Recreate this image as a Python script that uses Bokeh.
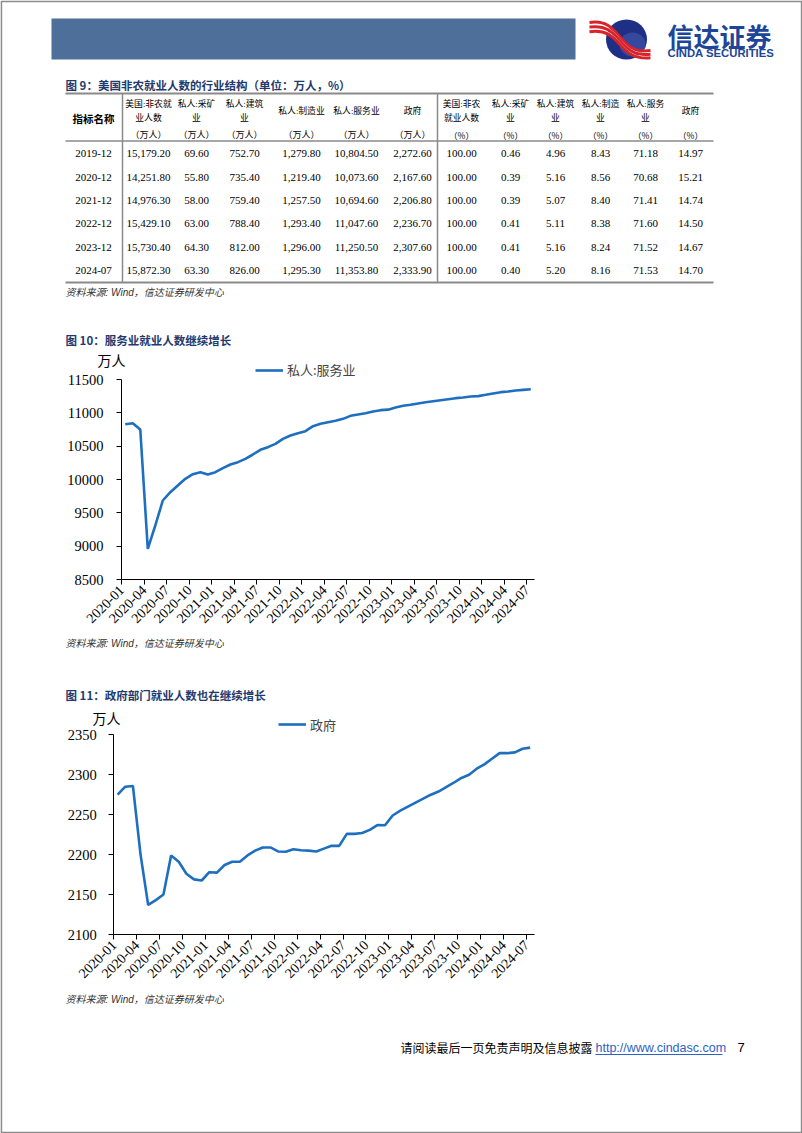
import math
from bokeh.plotting import figure
from bokeh.models import Range1d, FixedTicker, Legend, LegendItem, LinearAxis
from bokeh.core.properties import value
from bokeh.embed import file_html
from bokeh.resources import INLINE

# ---------------- data ----------------
tick_labels = ["2020-01", "2020-04", "2020-07", "2020-10", "2021-01", "2021-04", "2021-07",
               "2021-10", "2022-01", "2022-04", "2022-07", "2022-10", "2023-01", "2023-04",
               "2023-07", "2023-10", "2024-01", "2024-04", "2024-07"]

service = [10830, 10845, 10750, 8960, 9310, 9685, 9810, 9910, 10010, 10080, 10110, 10073.6,
           10110, 10170, 10225, 10260, 10310, 10375, 10445, 10485, 10535, 10610, 10660, 10694.6,
           10725, 10800, 10835, 10860, 10880, 10910, 10955, 10975, 10995, 11020, 11040, 11047.6,
           11080, 11105, 11120, 11140, 11160, 11175, 11190, 11205, 11220, 11230, 11245, 11250.5,
           11270, 11290, 11310, 11320, 11335, 11345, 11353.8]

government = [2275, 2285, 2286, 2200, 2137, 2143, 2150, 2199, 2191, 2176, 2169, 2167.6,
              2178, 2177.5, 2187, 2191, 2191, 2199, 2205, 2209, 2209, 2204, 2203.5, 2206.8,
              2205.4, 2205, 2204, 2207.5, 2211, 2211, 2226, 2226, 2227, 2231, 2237, 2236.7,
              2249, 2255, 2260, 2265, 2270, 2275, 2279, 2284.5, 2290, 2296, 2300, 2307.6,
              2313, 2320, 2327, 2327, 2328, 2332.5, 2333.9]

service_ticks = [8500, 9000, 9500, 10000, 10500, 11000, 11500]
government_ticks = [2100, 2150, 2200, 2250, 2300, 2350]

table_dates = ["2019-12", "2020-12", "2021-12", "2022-12", "2023-12", "2024-07"]
nonfarm_total = [15179.20, 14251.80, 14976.30, 15429.10, 15730.40, 15872.30]
mining = [69.60, 55.80, 58.00, 63.00, 64.30, 63.30]
construction = [752.70, 735.40, 759.40, 788.40, 812.00, 826.00]
manufacturing = [1279.80, 1219.40, 1257.50, 1293.40, 1296.00, 1295.30]
services_tbl = [10804.50, 10073.60, 10694.60, 11047.60, 11250.50, 11353.80]
government_tbl = [2272.60, 2167.60, 2206.80, 2236.70, 2307.60, 2333.90]
total_pct = [100.00, 100.00, 100.00, 100.00, 100.00, 100.00]
mining_pct = [0.46, 0.39, 0.39, 0.41, 0.41, 0.40]
construction_pct = [4.96, 5.16, 5.07, 5.11, 5.16, 5.20]
manufacturing_pct = [8.43, 8.56, 8.40, 8.38, 8.24, 8.16]
services_pct = [71.18, 70.68, 71.41, 71.60, 71.52, 71.53]
government_pct = [14.97, 15.21, 14.74, 14.50, 14.67, 14.70]

header_left = [["美国:非农就", "业人数"], ["私人:采矿", "业"], ["私人:建筑", "业"],
               ["私人:制造业"], ["私人:服务业"], ["政府"]]
header_right = [["美国:非农", "就业人数"], ["私人:采矿", "业"], ["私人:建筑", "业"],
                ["私人:制造", "业"], ["私人:服务", "业"], ["政府"]]

# ---------------- styles ----------------
SERIF = "Liberation Serif, Noto Sans CJK SC"
NUMFONT = "Liberation Serif"
CJK = "Noto Sans CJK SC"
ITAL = "Liberation Sans, Noto Sans CJK SC"
NAVY = "#1f3a6e"
LINE = "#1f6fc0"
GRAY = "#8a8a8a"
PW, PH = 802, 1133

p = figure(width=PW, height=PH, x_range=Range1d(0, PW), y_range=Range1d(PH, 0),
           x_axis_type=None, y_axis_type=None, min_border=0, outline_line_color=None,
           output_backend="svg", toolbar_location=None)


def txt(x, y, text, size, font=SERIF, align="center", color="black", style="normal"):
    p.text(x=x, y=y, text=text, text_align=align, text_baseline="middle",
           text_font=value(font), text_font_size=size, text_color=color, text_font_style=style)


def x_scale_range(v0, p0, v1, p1):
    s = (v1 - v0) / (p1 - p0)
    return Range1d(start=v0 - p0 * s, end=v0 + (PW - p0) * s)


def y_scale_range(v0, p0, v1, p1):
    s = (v1 - v0) / (p0 - p1)
    return Range1d(start=v0 - (PH - p0) * s, end=v0 + p0 * s)


# page border
p.quad(left=[0.8], right=[801.2], top=[0.8], bottom=[1132.2], fill_color=None,
       line_color="#8c8c8c", line_width=1.8)

# ---------------- header ----------------
p.quad(left=[51], right=[575], top=[18], bottom=[59], fill_color="#4d6f9a", line_color=None)
p.ellipse(x=[626], y=[39], width=[41], height=[40], fill_color="#1f2f86", line_color=None)
p.ellipse(x=[632], y=[44], width=[26], height=[24], fill_color="#5068bb", line_color=None, fill_alpha=0.45)
for d, c, w in [(0, "#d8232a", 3), (3, "white", 1.2), (4.6, "#d8232a", 3), (7.6, "white", 1.2), (9.2, "#d8232a", 3)]:
    p.bezier(x0=[589], y0=[22 + d], x1=[650], y1=[50 + d * 0.8], cx0=[622], cy0=[17 + d],
             cx1=[616], cy1=[55 + d * 0.6], line_color=c, line_width=w)
txt([667], [34.5], ["信达证券"], "26px", font=CJK, align="left", color="#1d4698", style="bold")
txt([667], [52], ["CINDA SECURITIES"], "11.3px", font="Liberation Sans", align="left",
    color="#1d4698", style="bold")

# ---------------- table ----------------
txt([65], [84], ["图 9：美国非农就业人数的行业结构（单位：万人，%）"], "11.5px", font=CJK,
    align="left", color=NAVY, style="bold")
p.segment(x0=[65, 65, 65], y0=[93, 140.5, 282], x1=[713, 713, 713], y1=[93, 140.5, 282],
          line_color=GRAY, line_width=[2, 1.5, 2])
p.segment(x0=[122, 437], y0=[93, 93], x1=[122, 437], y1=[282, 282], line_color=GRAY, line_width=1.5)

row_y = [153, 176.5, 200, 223, 247, 270]
left_cx = [148, 196, 244, 301, 356, 412]
right_cx = [461, 510, 555, 600, 645, 690]

txt([93], [118], ["指标名称"], "10.5px", font=CJK, style="bold")
for cols, heads in [(left_cx, header_left), (right_cx, header_right)]:
    for cx, lines in zip(cols, heads):
        ys = [103, 117] if len(lines) == 2 else [110]
        txt([cx] * len(lines), ys, lines, "8.8px", font=SERIF)
txt(left_cx, [134] * 6, ["（万人）"] * 6, "9px", font=CJK)
txt(right_cx, [134] * 6, ["（%）"] * 6, "8.5px", font=CJK)

txt([93] * 6, row_y, table_dates, "11px", font=NUMFONT)
for cx, col in zip(left_cx, [nonfarm_total, mining, construction, manufacturing, services_tbl, government_tbl]):
    txt([cx] * 6, row_y, ["{:,.2f}".format(v) for v in col], "11px", font=NUMFONT)
for cx, col in zip(right_cx, [total_pct, mining_pct, construction_pct, manufacturing_pct, services_pct, government_pct]):
    txt([cx] * 6, row_y, ["{:.2f}".format(v) for v in col], "11px", font=NUMFONT)
txt([65], [291.5], ["资料来源: Wind，信达证券研发中心"], "10px", font=ITAL, align="left",
    color="#333333", style="italic")

# ---------------- charts ----------------
p.extra_x_ranges = {"m1": x_scale_range(0, 121, 55, 534), "m2": x_scale_range(0, 113.3, 55, 533.5)}
p.extra_y_ranges = {"v1": y_scale_range(8500, 579, 11500, 379), "v2": y_scale_range(2100, 934, 2350, 734.3)}


def chart(series, yticks, xn, yn, legend_label, legend_x, legend_bottom, y_standoff):
    months = [i + 0.5 for i in range(len(series))]
    r = p.line(months, series, x_range_name=xn, y_range_name=yn, line_color=LINE, line_width=2.6)
    xa = LinearAxis(x_range_name=xn, y_range_name=yn, fixed_location=yticks[0], bounds=(0, len(series)),
                    ticker=FixedTicker(ticks=[i * 3 for i in range(len(tick_labels))], minor_ticks=[]),
                    major_label_overrides={i * 3: lab for i, lab in enumerate(tick_labels)},
                    major_label_orientation=math.pi / 4, major_label_text_font_size="14px",
                    major_label_standoff=3)
    ya = LinearAxis(x_range_name=xn, y_range_name=yn, fixed_location=0, bounds=(yticks[0], yticks[-1]),
                    ticker=FixedTicker(ticks=yticks, minor_ticks=[]), major_label_text_font_size="14.5px",
                    major_label_standoff=y_standoff)
    for ax in (xa, ya):
        ax.axis_line_color = "black"
        ax.major_tick_line_color = "black"
        ax.minor_tick_line_color = None
        ax.major_tick_in = 0
        ax.major_tick_out = 5
        ax.major_label_text_font = NUMFONT
        ax.major_label_text_color = "black"
    p.add_layout(xa, "below")
    p.add_layout(ya, "left")
    legend = Legend(items=[LegendItem(label=legend_label, renderers=[r])],
                    location=(legend_x, PH - legend_bottom), padding=0, margin=0, spacing=0,
                    border_line_color=None, background_fill_alpha=0, glyph_width=28, glyph_height=18,
                    label_height=18, label_standoff=4, label_text_font=CJK, label_text_font_size="13px",
                    label_text_baseline="middle")
    p.add_layout(legend)


chart(service, service_ticks, "m1", "v1", "私人:服务业", 255, 379, 13)
chart(government, government_ticks, "m2", "v2", "政府", 278, 733.5, 12)

txt([65], [339], ["图 10：服务业就业人数继续增长"], "11.5px", font=CJK, align="left", color=NAVY, style="bold")
txt([111], [359], ["万人"], "14px", font=CJK)
txt([65], [643], ["资料来源: Wind，信达证券研发中心"], "10px", font=ITAL, align="left",
    color="#333333", style="italic")

txt([65], [694.5], ["图 11：政府部门就业人数也在继续增长"], "11.5px", font=CJK, align="left", color=NAVY, style="bold")
txt([106], [717], ["万人"], "14px", font=CJK)
txt([65], [999], ["资料来源: Wind，信达证券研发中心"], "10px", font=ITAL, align="left",
    color="#333333", style="italic")

# ---------------- footer ----------------
txt([400], [1047], ["请阅读最后一页免责声明及信息披露"], "12px", font=CJK, align="left")
txt([595], [1047], ["http://www.cindasc.com"], "12.5px", font="Liberation Sans", align="left", color="#2b62c4")
p.segment(x0=[595], y0=[1054], x1=[722], y1=[1054], line_color="#2b62c4", line_width=1)
txt([737], [1047], ["7"], "13px", font="Liberation Sans", align="left")

open("out.html", "w").write(file_html(p, INLINE))
